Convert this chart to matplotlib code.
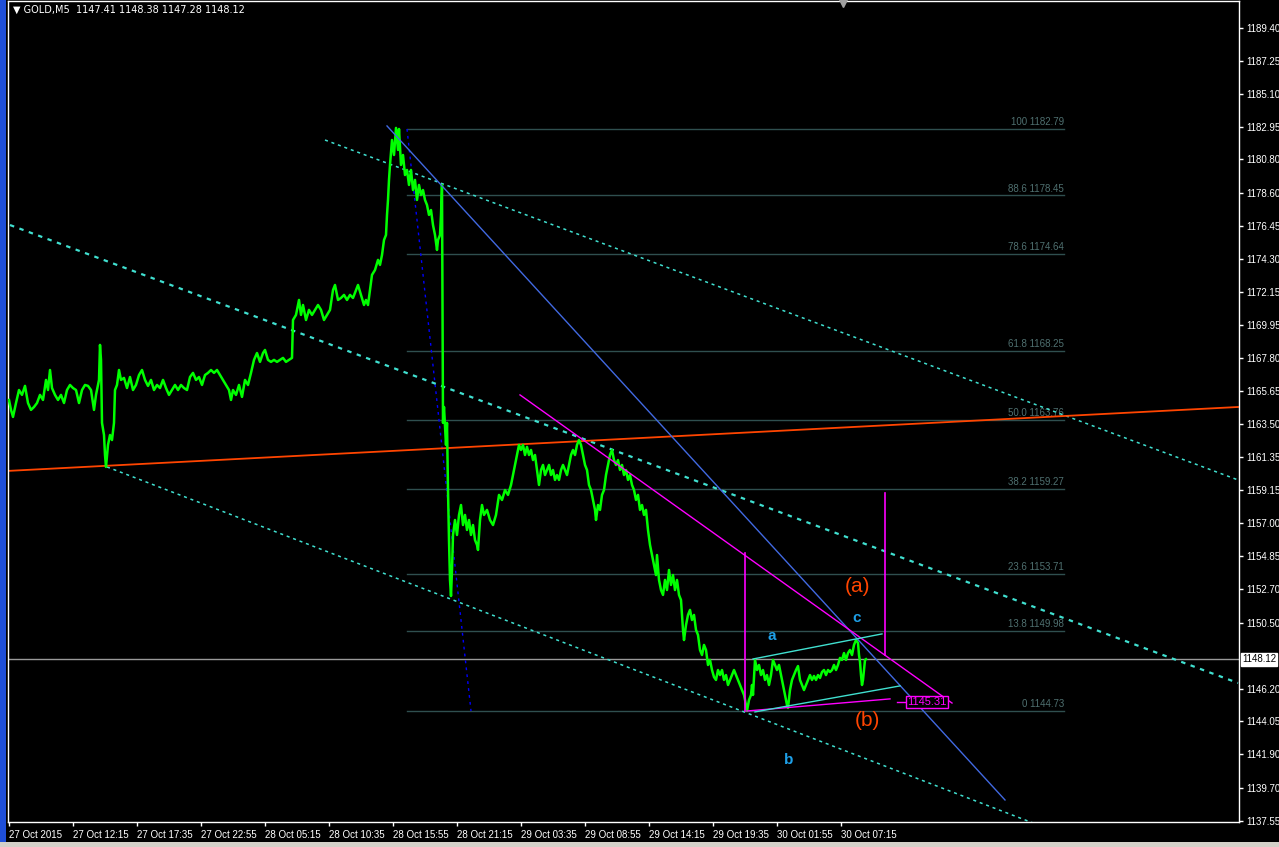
import matplotlib.pyplot as plt
import matplotlib.transforms as mtransforms
from matplotlib.patches import Rectangle

plt.rcParams['font.family'] = ['Liberation Sans', 'DejaVu Sans']

# --- Data (bar index = 5-minute bars from chart start, price in USD) ---

bars = [0, 2, 4, 7, 10, 13, 16, 19, 22, 25, 28, 31, 34, 37, 39, 41, 43, 46, 49, 52,
        55, 58, 61, 64, 67, 70, 73, 76, 79, 82, 85, 87, 90, 91, 92, 93, 95, 96, 97, 99,
        101, 103, 105, 106, 108, 110, 112, 115, 118, 121, 124, 127, 130, 133, 136, 139, 142, 145, 148, 151,
        154, 157, 160, 163, 166, 169, 172, 175, 178, 181, 184, 187, 190, 193, 196, 199, 202, 205, 208, 211,
        214, 217, 220, 222, 224, 227, 230, 233, 236, 239, 242, 245, 248, 251, 254, 256, 259, 262, 265, 268,
        271, 274, 277, 280, 283, 284, 287, 290, 292, 294, 297, 300, 303, 306, 309, 312, 315, 318, 321, 324,
        326, 329, 332, 335, 338, 341, 344, 347, 349, 352, 355, 357, 359, 361, 363, 366, 369, 371, 373, 375,
        377, 378, 379, 380, 381, 383, 385, 387, 389, 390, 392, 394, 396, 398, 400, 402, 404, 406, 408, 410,
        412, 414, 416, 418, 420, 422, 424, 426, 428, 429, 431, 432, 433, 434, 435, 437, 438, 439, 440, 441,
        442, 443, 444, 446, 448, 450, 452, 454, 456, 458, 460, 462, 464, 466, 468, 469, 471, 473, 475, 478,
        481, 484, 487, 490, 493, 496, 499, 502, 504, 506, 508, 510, 512, 514, 516, 518, 520, 522, 524, 526,
        528, 530, 532, 534, 536, 538, 540, 542, 544, 546, 548, 550, 552, 554, 556, 558, 560, 562, 564, 566,
        568, 570, 572, 574, 576, 578, 580, 582, 584, 586, 587, 589, 591, 593, 595, 597, 599, 601, 603, 605,
        607, 609, 611, 613, 615, 617, 619, 621, 623, 625, 627, 629, 631, 633, 635, 637, 639, 641, 643, 645,
        647, 648, 650, 652, 654, 656, 658, 660, 662, 664, 666, 668, 670, 672, 674, 675, 677, 679, 681, 683,
        685, 687, 689, 691, 693, 695, 697, 699, 701, 703, 705, 707, 709, 711, 713, 715, 717, 719, 721, 723,
        725, 727, 729, 731, 733, 735, 737, 738, 740, 742, 743, 744, 746, 748, 750, 752, 754, 756, 758, 760,
        762, 764, 766, 768, 770, 772, 774, 776, 778, 779, 781, 783, 785, 787, 789, 791, 793, 795, 797, 799,
        801, 803, 805, 807, 809, 811, 813, 815, 817, 819, 821, 823, 825, 827, 829, 831, 833, 835, 837, 839,
        841, 843, 845, 847, 849, 850, 851, 852, 853, 854, 856, 857]

close = [1165.07, 1164.42, 1163.96, 1164.87, 1165.72, 1165.40, 1165.99, 1164.87, 1164.42, 1164.61,
         1164.87, 1165.40, 1165.07, 1166.38, 1165.72, 1167.03, 1165.85, 1165.40, 1165.07, 1165.40,
         1164.87, 1165.72, 1166.05, 1165.85, 1165.72, 1164.87, 1165.72, 1166.05, 1165.99, 1165.72,
         1164.42, 1165.40, 1166.38, 1168.67, 1167.69, 1163.57, 1162.78, 1161.47, 1160.69, 1162.13,
         1162.78, 1162.45, 1163.57, 1165.72, 1166.05, 1167.03, 1166.38, 1166.51, 1165.85, 1166.57,
         1165.72, 1166.05, 1166.70, 1167.03, 1166.38, 1165.99, 1166.38, 1165.72, 1166.05, 1165.85,
         1166.38, 1165.85, 1165.40, 1165.72, 1166.05, 1165.72, 1166.05, 1165.85, 1165.72, 1166.57,
         1166.84, 1166.38, 1166.57, 1166.05, 1166.70, 1166.84, 1167.03, 1166.84, 1167.03, 1166.70,
         1166.38, 1166.05, 1165.72, 1165.07, 1165.72, 1165.40, 1166.05, 1165.27, 1166.38, 1166.05,
         1166.84, 1167.69, 1168.14, 1167.56, 1168.14, 1168.34, 1167.69, 1167.56, 1167.69, 1167.56,
         1167.69, 1167.82, 1167.56, 1167.69, 1167.82, 1170.30, 1170.63, 1171.61, 1170.63, 1171.28,
         1170.30, 1170.96, 1170.63, 1170.96, 1171.28, 1170.96, 1170.30, 1170.63, 1170.96, 1172.26,
         1172.59, 1171.61, 1171.74, 1171.94, 1171.61, 1171.94, 1171.74, 1172.26, 1172.59, 1171.94,
         1171.28, 1171.61, 1171.28, 1172.26, 1173.25, 1173.57, 1174.23, 1173.90, 1174.55, 1175.53,
         1175.86, 1177.17, 1178.15, 1179.46, 1180.44, 1182.07, 1181.09, 1182.86, 1181.42, 1182.79,
         1180.44, 1181.09, 1179.78, 1180.11, 1179.13, 1180.11, 1178.80, 1179.46, 1178.15, 1179.13,
         1178.47, 1178.80, 1178.15, 1177.82, 1177.17, 1177.49, 1176.51, 1175.86, 1174.88, 1175.53,
         1175.86, 1177.17, 1179.13, 1163.57, 1164.61, 1162.13, 1163.57, 1159.18, 1155.91, 1153.30,
         1152.25, 1153.95, 1156.24, 1157.22, 1156.24, 1157.55, 1158.20, 1156.89, 1157.55, 1156.57,
         1157.22, 1156.24, 1156.89, 1155.91, 1155.59, 1155.26, 1157.22, 1158.20, 1157.55, 1157.88,
         1157.22, 1156.89, 1157.55, 1158.86, 1158.53, 1159.18, 1158.86, 1159.51, 1160.16, 1160.82,
         1161.47, 1162.13, 1161.80, 1162.13, 1161.47, 1162.00, 1161.47, 1161.80, 1161.14, 1161.47,
         1160.49, 1159.51, 1160.49, 1160.82, 1160.16, 1160.49, 1160.82, 1160.16, 1160.49, 1159.84,
         1160.16, 1159.84, 1160.49, 1160.82, 1160.49, 1160.16, 1160.82, 1161.47, 1161.80, 1161.47,
         1162.13, 1162.45, 1162.13, 1161.47, 1160.82, 1160.49, 1159.51, 1159.18, 1158.53, 1157.88,
         1157.22, 1158.20, 1157.88, 1158.86, 1159.18, 1160.16, 1160.82, 1161.47, 1161.80, 1161.14,
         1160.82, 1161.14, 1160.49, 1160.82, 1160.16, 1160.49, 1159.84, 1160.16, 1159.51, 1159.18,
         1158.53, 1158.86, 1157.88, 1158.20, 1157.55, 1157.88, 1156.57, 1155.59, 1154.93, 1154.28,
         1153.62, 1154.93, 1153.30, 1152.64, 1152.32, 1153.30, 1152.64, 1153.95, 1152.97, 1153.62,
         1152.64, 1153.30, 1152.32, 1151.99, 1150.03, 1149.37, 1150.35, 1151.01, 1151.34, 1150.68,
         1151.01, 1150.03, 1149.70, 1148.72, 1148.39, 1149.05, 1148.72, 1147.74, 1148.07, 1147.41,
         1146.95, 1146.76, 1147.41, 1147.08, 1147.41, 1146.76, 1147.08, 1146.43, 1146.76, 1147.08,
         1147.41, 1147.08, 1146.76, 1146.43, 1146.10, 1145.78, 1145.12, 1144.73, 1145.45, 1145.78,
         1146.43, 1145.78, 1148.07, 1147.41, 1147.74, 1147.08, 1147.41, 1146.76, 1147.08, 1146.43,
         1147.08, 1148.07, 1147.74, 1147.41, 1147.74, 1147.08, 1146.43, 1145.78, 1145.12, 1144.93,
         1146.10, 1146.76, 1147.08, 1147.41, 1147.67, 1146.76, 1146.43, 1146.10, 1146.43, 1146.76,
         1147.08, 1146.76, 1147.02, 1146.76, 1147.08, 1146.89, 1147.28, 1147.41, 1147.08, 1147.41,
         1147.28, 1147.41, 1147.74, 1147.41, 1147.74, 1148.20, 1148.07, 1148.52, 1148.07, 1148.52,
         1148.72, 1148.39, 1149.05, 1149.37, 1149.18, 1148.39, 1147.94, 1147.08, 1146.43, 1146.76,
         1148.07, 1148.12]

last_price = 1148.12

time_tick_bars = [0, 64, 128, 192, 256, 320, 384, 448, 512, 576, 640, 704, 768, 832]
time_tick_labels = ["27 Oct 2015", "27 Oct 12:15", "27 Oct 17:35", "27 Oct 22:55",
                    "28 Oct 05:15", "28 Oct 10:35", "28 Oct 15:55", "28 Oct 21:15",
                    "29 Oct 03:35", "29 Oct 08:55", "29 Oct 14:15", "29 Oct 19:35",
                    "30 Oct 01:55", "30 Oct 07:15"]

price_ticks = [1189.40, 1187.25, 1185.10, 1182.95, 1180.80, 1178.60, 1176.45, 1174.30,
               1172.15, 1169.95, 1167.80, 1165.65, 1163.50, 1161.35, 1159.15, 1157.00,
               1154.85, 1152.70, 1150.50, 1146.20, 1144.05, 1141.90, 1139.70, 1137.55]

# Fibonacci retracement (from the high to the low)
fib_levels = [0, 13.8, 23.6, 38.2, 50.0, 61.8, 78.6, 88.6, 100]
fib_prices = [1144.73, 1149.98, 1153.71, 1159.27, 1163.76, 1168.25, 1174.64, 1178.45, 1182.79]
fib_span = (398, 1055)
fib_base = ((398, 1182.79), (462, 1144.73))

# Trend lines as (bar, price) anchor pairs
blue_trend = ((378, 1182.99), (996, 1138.91))
channel_upper = ((316, 1182.07), (1229, 1159.84))
channel_mid = ((1, 1176.51), (1229, 1146.56))
channel_low = ((98, 1160.69), (1060, 1136.50))
red_line = ((-1, 1160.43), (1229, 1164.61))
magenta_diag = ((511, 1165.40), (943, 1145.25))
magenta_low = ((738, 1144.73), (881, 1145.52))
magenta_left = ((736, 1155.06), (736, 1144.73))
magenta_right = ((876, 1158.99), (876, 1148.39))
abc_upper = ((744, 1148.13), (873, 1149.77))
abc_lower = ((746, 1144.67), (891, 1146.37))
label_price = 1145.31

wave_labels = [("(a)", 849, 1152.84, "#ff4500", 15),
               ("(b)", 858, 1144.14, "#ff4500", 15),
               ("a", 763, 1149.64, "#1ea0e8", 11),
               ("b", 780, 1141.53, "#1ea0e8", 11),
               ("c", 848, 1150.81, "#1ea0e8", 11)]

# --- Figure ---

fig = plt.figure(figsize=(12.79, 8.47), dpi=100, facecolor="black")
ax = fig.add_axes([8 / 1279, 25 / 847, 1231 / 1279, 821 / 847])
ax.set_facecolor("black")
ax.set_xlim(-1, 1230)
ax.set_ylim(1137.47, 1191.16)
for sp in ax.spines.values():
    sp.set_color("white")
    sp.set_linewidth(1)

# window chrome
fig.add_artist(Rectangle((0, 0), 6 / 1279, 1, transform=fig.transFigure,
                         facecolor="#1f4fd8", edgecolor="none"))
fig.add_artist(Rectangle((0, 0), 1, 5 / 847, transform=fig.transFigure,
                         facecolor="#d4d0c8", edgecolor="none"))


def seg(pair, **kw):
    (x0, y0), (x1, y1) = pair
    ax.plot([x0, x1], [y0, y1], **kw)


# fib levels
for lvl, p in zip(fib_levels, fib_prices):
    ax.plot(fib_span, [p, p], color="#2f4f4f", lw=1, zorder=1)
    txt = f"{lvl:g} {p:.2f}" if lvl in (0, 100) else f"{lvl:.1f} {p:.2f}"
    ax.text(fib_span[1], p + 0.12, txt, color="#4f7070", fontsize=7,
            ha="right", va="bottom", zorder=1)
seg(fib_base, color="#0000ff", lw=1, ls=(0, (2, 3)), zorder=2)

# current price line
ax.axhline(last_price, color="#9a9a9a", lw=1, zorder=1)

# channels and trend lines
dot = (0, (2, 2.5))
seg(channel_upper, color="#40e0d0", lw=1.1, ls=dot, zorder=2)
seg(channel_mid, color="#40e0d0", lw=1.6, ls=dot, zorder=2)
seg(channel_low, color="#40e0d0", lw=1.1, ls=dot, zorder=2)
seg(red_line, color="#ff4500", lw=1.3, zorder=2)
seg(blue_trend, color="#4169e1", lw=1, zorder=4)
seg(magenta_diag, color="#ff00ff", lw=1, zorder=4)
seg(magenta_low, color="#ff00ff", lw=1, zorder=4)
seg(magenta_left, color="#ff00ff", lw=1.2, zorder=4)
seg(magenta_right, color="#ff00ff", lw=1.2, zorder=4)
seg(abc_upper, color="#40e0d0", lw=1, zorder=4)
seg(abc_lower, color="#40e0d0", lw=1, zorder=4)

# price
ax.plot(bars, close, color="#00ff00", lw=1.8, zorder=3)

# price label box for the lower line
ax.plot([888, 897], [label_price, label_price], color="#ff00ff", lw=1, zorder=4)
ax.text(918, label_price, f"{label_price:.2f}", color="#ff00ff", fontsize=8,
        ha="center", va="center", zorder=5,
        bbox=dict(facecolor="black", edgecolor="#ff00ff", pad=1.0, lw=1))

for txt, bx, p, col, fs in wave_labels:
    ax.text(bx, p, txt, color=col, fontsize=fs, ha="center", va="center",
            fontweight="bold" if fs < 12 else "normal", zorder=5)

# axes ticks
ax.yaxis.tick_right()
ax.set_yticks(price_ticks, [f"{v:.2f}" for v in price_ticks])
ax.set_xticks(time_tick_bars, time_tick_labels)
for lab in ax.get_xticklabels():
    lab.set_ha("left")
ax.tick_params(axis="both", colors="white", labelsize=7, length=3, width=1, pad=2)
ax.tick_params(axis="x", pad=3)

trans = mtransforms.blended_transform_factory(ax.transAxes, ax.transData)
ax.text(1.0 + 3 / 1231, last_price, f"{last_price:.2f}", transform=trans,
        color="black", fontsize=7, ha="left", va="center", clip_on=False, zorder=6,
        bbox=dict(facecolor="white", edgecolor="white", pad=1.0))

# chart header and shift marker
ax.text(5 / 1231, 1 - 9 / 821, "\u25bc GOLD,M5  1147.41 1148.38 1147.28 1148.12",
        transform=ax.transAxes, color="white", fontsize=7, ha="left", va="center",
        family=["DejaVu Sans"])
ax.plot([834], [1191.0], marker="v", color="#a0a0a0", ms=6, clip_on=False, zorder=6)

fig.savefig("out.png", dpi=100, facecolor="black")
